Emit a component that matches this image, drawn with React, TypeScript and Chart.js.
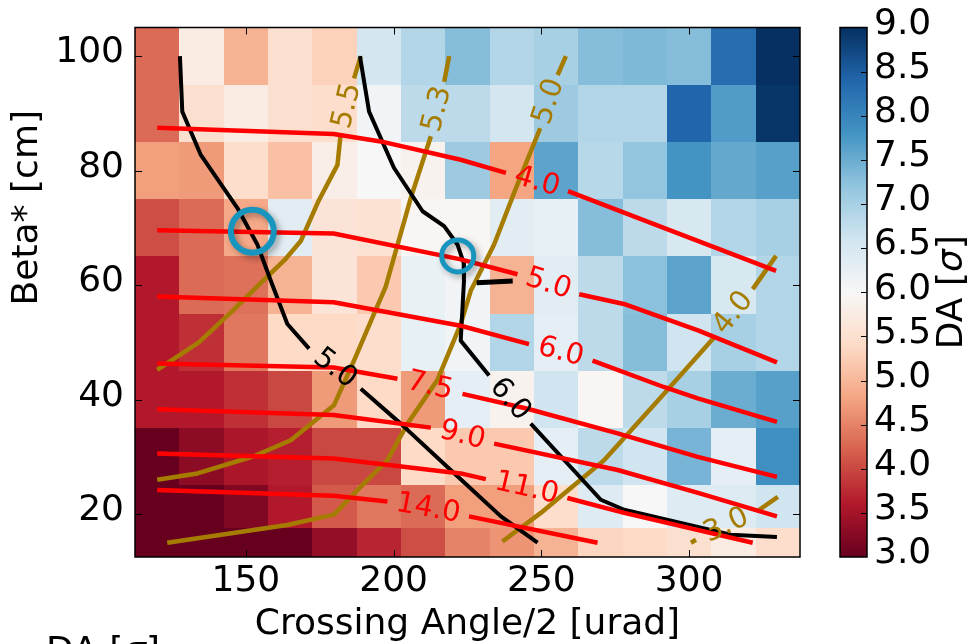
import React, { useEffect, useRef } from 'react';
import { Chart, registerables } from 'chart.js';

Chart.register(...registerables);

// ---------- data ----------
const crossingAngles = [120, 135, 150, 165, 180, 195, 210, 225, 240, 255, 270, 285, 300, 315, 330];
const betaStars = [100, 90, 80, 70, 60, 50, 40, 30, 20, 15];

const da100 = [4.3, 5.75, 4.95, 5.5, 5.3, 6.55, 6.9, 7.3, 6.9, 7.0, 7.3, 7.35, 7.3, 8.3, 9.0];
const da90 = [4.3, 5.5, 5.75, 5.5, 5.45, 6.1, 6.8, 6.8, 6.55, 7.1, 6.9, 6.9, 8.4, 7.7, 8.95];
const da80 = [4.75, 4.7, 5.45, 5.1, 5.8, 6.0, 5.9, 7.1, 4.8, 7.6, 6.85, 7.2, 7.8, 7.55, 7.65];
const da70 = [4.05, 4.3, 4.85, 6.35, 5.6, 5.55, 5.95, 5.95, 6.35, 6.25, 7.3, 6.8, 6.5, 6.9, 7.0];
const da60 = [3.6, 4.3, 4.35, 4.95, 5.6, 5.2, 6.2, 6.1, 4.95, 6.35, 6.8, 7.25, 7.6, 6.5, 6.9];
const da50 = [3.6, 3.8, 4.4, 5.4, 5.4, 5.45, 6.25, 6.1, 6.9, 6.3, 6.8, 7.3, 6.6, 7.0, 6.9];
const da40 = [3.6, 3.6, 3.8, 4.0, 4.7, 5.4, 4.7, 6.3, 5.9, 6.6, 5.95, 6.8, 7.0, 7.5, 7.65];
const da30 = [3.0, 3.3, 3.55, 3.65, 4.0, 4.0, 5.4, 5.2, 5.2, 6.3, 6.8, 6.6, 7.4, 6.3, 7.85];
const da20 = [3.0, 3.0, 3.2, 3.6, 4.15, 4.4, 4.3, 4.75, 4.75, 5.45, 6.4, 6.0, 6.4, 6.4, 6.6];
const da15 = [3.0, 3.0, 3.0, 3.0, 3.35, 3.7, 4.05, 4.5, 4.65, 4.95, 5.35, 5.4, 5.5, 5.75, 5.45];
const daRows = [da100, da90, da80, da70, da60, da50, da40, da30, da20, da15];

const xTicks = [150, 200, 250, 300];
const yTicks = [20, 40, 60, 80, 100];
const cbTicks = [3.0, 3.5, 4.0, 4.5, 5.0, 5.5, 6.0, 6.5, 7.0, 7.5, 8.0, 8.5, 9.0];

// contour paths [crossing angle, beta*]; "a" = before label, "b" = after label
const red40a = [[120, 87.5], [179.7, 86.4], [195.6, 85.1], [222.7, 81.9], [238, 79.6]];
const red40b = [[259, 76.4], [291.4, 70], [329.4, 62.5]];
const red50a = [[120, 69.6], [179.7, 69], [222.7, 64.5], [241.9, 61.9]];
const red50b = [[262.8, 58.4], [277.9, 56.7], [303, 52.1], [329.7, 46.5]];
const red60a = [[120, 58], [179.7, 57], [222.7, 52.9], [245.8, 49.7]];
const red60b = [[267.3, 46.8], [291.4, 42.2], [302.9, 40.2], [329.7, 36.1]];
const red75a = [[120, 46.3], [179.7, 45.6], [201.3, 43.65]];
const red75b = [[223.3, 41], [245.3, 38.4], [275.8, 34.1], [302.9, 30], [329.7, 26.5]];
const red90a = [[120, 38.3], [179.7, 37.3], [212.6, 35.1]];
const red90b = [[234, 32.3], [275.8, 27.7], [303, 23.7], [329.7, 19.6]];
const red110a = [[120, 30.6], [179.7, 29.7], [222.7, 27.1], [231.2, 26.1]];
const red110b = [[258.8, 22.8], [278, 20.2], [321.5, 15]];
const red140a = [[120, 24.2], [179.7, 23.2], [197.9, 22.2]];
const red140b = [[225.5, 19.6], [269, 15]];

const black50a = [[127.7, 100], [128.5, 90.3], [134.7, 82.8], [147.1, 73.5], [153.9, 67.1], [158.7, 60.4], [164.05, 53.2], [171.4, 48.9]];
const black50b = [[188.9, 41.9], [202.4, 35.8], [219.3, 27.7], [236.3, 19.6], [248.7, 15]];
const black60a = [[188.6, 100], [191.7, 90.3], [200.1, 80.5], [209.8, 72.9], [217.1, 70.3], [221.6, 67.1], [223.7, 63.9], [223.8, 60.7], [222.7, 50.3], [232.3, 44.2]];
const black60b = [[246.4, 35.8], [270.1, 22.5], [278, 20.75], [314.1, 16.4], [329.7, 16]];
const blackIsland = [[228.1, 60.4], [240.3, 60.7]];

const gold55a = [[188.9, 100], [186.6, 96.1]];
const gold55b = [[182.1, 86.5], [181, 81], [174.6, 74.7], [168.6, 67.7], [163.5, 64.6], [155.7, 60.7], [145.5, 55.5], [134.1, 50], [120, 45.2]];
const gold53a = [[218.8, 100], [217.1, 95.5]];
const gold53b = [[212.6, 86], [205.8, 75.2], [197.3, 59.7], [193.4, 55], [186.6, 46.8], [179.8, 39], [165.2, 32.9], [152.7, 30.1], [133.6, 27.1], [120, 26]];
const gold50a = [[258.3, 100], [255.5, 96.7]];
const gold50b = [[249.6, 87.4], [241.9, 77.6], [234, 67.1], [226.1, 59], [222.7, 53.2], [214.8, 43.4], [204.7, 35.8], [197.9, 29.4], [188.9, 24.8], [179.8, 19.9], [164, 18.1], [123.4, 15]];
const gold40a = [[236.8, 15.2], [249.8, 20.2], [271.2, 29.4], [291.5, 41], [308.5, 50.9]];
const gold40b = [[321.5, 59.3], [329.4, 65.1]];
const gold30a = [[300.6, 15], [302.3, 15.5]];
const gold30b = [[322.9, 20.45], [330, 23]];

const markerAngles = [152.2, 221.7];
const markerBetas = [69.4, 65.1];

// ---------- styles ----------
const RED = '#ff0000';
const GOLD = '#a67c00';
const BLACK = '#000000';
const TEAL = '#1795bf';
const FONT = '"DejaVu Sans", sans-serif';
const RDBU = ['#67001f', '#b2182b', '#d6604d', '#f4a582', '#fddbc7', '#f7f7f7', '#d1e5f0', '#92c5de', '#4393c3', '#2166ac', '#053061'];
const V_MIN = 3;
const V_MAX = 9;

const contours = [
  { label: '4.0', color: RED, width: 4.5, a: red40a, b: red40b },
  { label: '5.0', color: RED, width: 4.5, a: red50a, b: red50b },
  { label: '6.0', color: RED, width: 4.5, a: red60a, b: red60b },
  { label: '7.5', color: RED, width: 4.5, a: red75a, b: red75b },
  { label: '9.0', color: RED, width: 4.5, a: red90a, b: red90b },
  { label: '11.0', color: RED, width: 4.5, a: red110a, b: red110b },
  { label: '14.0', color: RED, width: 4.5, a: red140a, b: red140b },
  { label: '5.0', color: BLACK, width: 4, a: black50a, b: black50b },
  { label: '6.0', color: BLACK, width: 4, a: black60a, b: black60b },
  { label: '', color: BLACK, width: 5, a: blackIsland, b: null },
  { label: '5.5', color: GOLD, width: 4.5, a: gold55a, b: gold55b },
  { label: '5.3', color: GOLD, width: 4.5, a: gold53a, b: gold53b },
  { label: '5.0', color: GOLD, width: 4.5, a: gold50a, b: gold50b },
  { label: '4.0', color: GOLD, width: 4.5, a: gold40a, b: gold40b },
  { label: '3.0', color: GOLD, width: 4.5, a: gold30a, b: gold30b },
];

function hexToRgb(h: string) {
  return [parseInt(h.slice(1, 3), 16), parseInt(h.slice(3, 5), 16), parseInt(h.slice(5, 7), 16)];
}
const RDBU_RGB = RDBU.map(hexToRgb);

function colorFor(v: number) {
  let t = (v - V_MIN) / (V_MAX - V_MIN);
  t = Math.max(0, Math.min(1, t));
  const pos = t * (RDBU_RGB.length - 1);
  const i = Math.min(Math.floor(pos), RDBU_RGB.length - 2);
  const f = pos - i;
  const a = RDBU_RGB[i];
  const b = RDBU_RGB[i + 1];
  const c = a.map((x, k) => Math.round(x + (b[k] - x) * f));
  return `rgb(${c[0]},${c[1]},${c[2]})`;
}

function edges(centers: number[]) {
  const n = centers.length;
  const e: number[] = [];
  e.push(centers[0] - (centers[1] - centers[0]) / 2);
  for (let i = 1; i < n; i++) e.push((centers[i - 1] + centers[i]) / 2);
  e.push(centers[n - 1] + (centers[n - 1] - centers[n - 2]) / 2);
  return e;
}

function drawDA(ctx: CanvasRenderingContext2D, x: number, y: number, size: number, align: 'center' | 'left') {
  const nf = `${size}px ${FONT}`;
  const itf = `italic ${size}px ${FONT}`;
  const parts: [string, string][] = [['DA [', nf], ['σ', itf], [']', nf]];
  const widths = parts.map(([t, f]) => {
    ctx.font = f;
    return ctx.measureText(t).width;
  });
  const total = widths.reduce((s, w) => s + w, 0);
  let cx = align === 'center' ? x - total / 2 : x;
  ctx.textAlign = 'left';
  parts.forEach(([t, f], i) => {
    ctx.font = f;
    ctx.fillText(t, cx, y);
    cx += widths[i];
  });
}

const heatmapPlugin = {
  id: 'heatmap',
  beforeDatasetsDraw(chart: any) {
    const { ctx, chartArea: a, scales } = chart;
    const xs = scales.x;
    const ys = scales.y;
    const xe = edges(crossingAngles);
    const ye = edges(betaStars);
    ctx.save();
    ctx.beginPath();
    ctx.rect(a.left, a.top, a.right - a.left, a.bottom - a.top);
    ctx.clip();
    daRows.forEach((row, r) => {
      const y0 = ys.getPixelForValue(ye[r]);
      const y1 = ys.getPixelForValue(ye[r + 1]);
      row.forEach((v, c) => {
        const x0 = xs.getPixelForValue(xe[c]);
        const x1 = xs.getPixelForValue(xe[c + 1]);
        const L = Math.round(Math.min(x0, x1));
        const R = Math.round(Math.max(x0, x1));
        const T = Math.round(Math.min(y0, y1));
        const B = Math.round(Math.max(y0, y1));
        ctx.fillStyle = colorFor(v);
        ctx.fillRect(L, T, R - L, B - T);
      });
    });
    ctx.restore();
  },
};

const labelsPlugin = {
  id: 'contourLabels',
  afterDatasetsDraw(chart: any) {
    const { ctx, scales } = chart;
    const xs = scales.x;
    const ys = scales.y;
    ctx.save();
    contours.forEach((c) => {
      if (!c.label || !c.b) return;
      const p1 = c.a[c.a.length - 1];
      const p2 = c.b[0];
      const x1 = xs.getPixelForValue(p1[0]);
      const y1 = ys.getPixelForValue(p1[1]);
      const x2 = xs.getPixelForValue(p2[0]);
      const y2 = ys.getPixelForValue(p2[1]);
      let ang = Math.atan2(y2 - y1, x2 - x1);
      if (ang > Math.PI / 2) ang -= Math.PI;
      if (ang < -Math.PI / 2) ang += Math.PI;
      ctx.save();
      ctx.translate((x1 + x2) / 2, (y1 + y2) / 2);
      ctx.rotate(ang);
      ctx.font = `29px ${FONT}`;
      ctx.fillStyle = c.color;
      ctx.textAlign = 'center';
      ctx.textBaseline = 'middle';
      ctx.fillText(c.label, 0, 0);
      ctx.restore();
    });
    ctx.restore();
  },
};

const shadowPlugin = {
  id: 'markerShadow',
  beforeDatasetDraw(chart: any, args: any) {
    if (args.meta && args.meta.type === 'scatter') {
      const ctx = chart.ctx;
      ctx.save();
      ctx.shadowColor = 'rgba(0,0,0,0.35)';
      ctx.shadowBlur = 6;
      ctx.shadowOffsetX = 3;
      ctx.shadowOffsetY = 3;
    }
  },
  afterDatasetDraw(chart: any, args: any) {
    if (args.meta && args.meta.type === 'scatter') {
      chart.ctx.restore();
    }
  },
};

const decorPlugin = {
  id: 'decor',
  afterDraw(chart: any) {
    const { ctx, chartArea: a, scales } = chart;
    const xs = scales.x;
    const ys = scales.y;
    const cb = scales.cb;
    ctx.save();
    // inward ticks
    ctx.strokeStyle = '#000';
    ctx.lineWidth = 1;
    const TL = 7;
    xTicks.forEach((v) => {
      const px = Math.round(xs.getPixelForValue(v)) + 0.5;
      ctx.beginPath();
      ctx.moveTo(px, a.bottom);
      ctx.lineTo(px, a.bottom - TL);
      ctx.moveTo(px, a.top);
      ctx.lineTo(px, a.top + TL);
      ctx.stroke();
    });
    yTicks.forEach((v) => {
      const py = Math.round(ys.getPixelForValue(v)) + 0.5;
      ctx.beginPath();
      ctx.moveTo(a.left, py);
      ctx.lineTo(a.left + TL, py);
      ctx.moveTo(a.right, py);
      ctx.lineTo(a.right - TL, py);
      ctx.stroke();
    });
    // frame
    ctx.lineWidth = 1.5;
    ctx.strokeRect(a.left, a.top, a.right - a.left, a.bottom - a.top);

    // colorbar
    const bx0 = cb.left + 40;
    const bx1 = cb.left + 67;
    const top = cb.getPixelForValue(V_MAX);
    const bot = cb.getPixelForValue(V_MIN);
    const grad = ctx.createLinearGradient(0, bot, 0, top);
    RDBU.forEach((c, i) => grad.addColorStop(i / (RDBU.length - 1), c));
    ctx.fillStyle = grad;
    ctx.fillRect(bx0, top, bx1 - bx0, bot - top);
    ctx.lineWidth = 1;
    cbTicks.forEach((v) => {
      if (v === V_MIN || v === V_MAX) return;
      const py = Math.round(cb.getPixelForValue(v)) + 0.5;
      ctx.beginPath();
      ctx.moveTo(bx1 - 6, py);
      ctx.lineTo(bx1, py);
      ctx.stroke();
    });
    ctx.lineWidth = 1.5;
    ctx.strokeRect(bx0, top, bx1 - bx0, bot - top);

    // colorbar title
    ctx.fillStyle = '#000';
    ctx.save();
    ctx.translate(953, (top + bot) / 2);
    ctx.rotate(-Math.PI / 2);
    ctx.textBaseline = 'middle';
    drawDA(ctx, 0, 0, 36, 'center');
    ctx.restore();

    // y axis title
    ctx.save();
    ctx.translate(28, 110);
    ctx.rotate(-Math.PI / 2);
    ctx.font = `36px ${FONT}`;
    ctx.textAlign = 'right';
    ctx.textBaseline = 'middle';
    ctx.fillText('Beta* [cm]', 0, 0);
    ctx.restore();

    // partially visible title of the next panel
    ctx.textBaseline = 'alphabetic';
    drawDA(ctx, 46, 662, 36, 'left');
    ctx.restore();
  },
};

function toPts(arr: number[][]) {
  return arr.map((p) => ({ x: p[0], y: p[1] }));
}

export default function App() {
  const ref = useRef<HTMLCanvasElement>(null);
  useEffect(() => {
    document.body.style.margin = '0';
    Chart.defaults.font.family = FONT;
    Chart.defaults.color = '#000';

    const lineSets = contours.map((c) => {
      const data: any[] = toPts(c.a);
      if (c.b) {
        const pa = c.a[c.a.length - 1];
        const pb = c.b[0];
        data.push({ x: (pa[0] + pb[0]) / 2, y: null });
        data.push(...toPts(c.b));
      }
      return {
        type: 'line',
        data,
        borderColor: c.color,
        borderWidth: c.width,
        pointRadius: 0,
        pointHoverRadius: 0,
        showLine: true,
        fill: false,
        tension: 0,
        spanGaps: false,
        borderCapStyle: 'butt',
        borderJoinStyle: 'round',
        order: 1,
      };
    });

    const markerSet = {
      type: 'scatter',
      data: markerAngles.map((x, i) => ({ x, y: markerBetas[i] })),
      pointRadius: [21.5, 16],
      pointBorderWidth: [6, 5],
      borderWidth: [6, 5],
      pointBorderColor: TEAL,
      borderColor: TEAL,
      backgroundColor: 'rgba(0,0,0,0)',
      pointBackgroundColor: 'rgba(0,0,0,0)',
      order: 0,
    };

    const noPadV = (s: any) => {
      s.paddingTop = 0;
      s.paddingBottom = 0;
    };

    const chart = new Chart(ref.current as HTMLCanvasElement, {
      type: 'line',
      data: { datasets: [markerSet, ...lineSets] as any },
      options: {
        animation: false,
        responsive: false,
        maintainAspectRatio: false,
        events: [],
        layout: { padding: { top: 25, left: 0, right: 0, bottom: 0 } },
        plugins: { legend: { display: false }, tooltip: { enabled: false } },
        scales: {
          x: {
            type: 'linear',
            min: 112.5,
            max: 337.5,
            afterBuildTicks: (s: any) => {
              s.ticks = xTicks.map((v) => ({ value: v }));
            },
            afterFit: (s: any) => {
              s.height = 87;
              s.paddingLeft = 0;
              s.paddingRight = 0;
            },
            grid: { display: false, drawTicks: false },
            border: { display: false },
            ticks: {
              font: { size: 36 },
              color: '#000',
              padding: 3,
              maxRotation: 0,
              minRotation: 0,
              autoSkip: false,
              callback: (v: any) => String(v),
            },
            title: {
              display: true,
              text: 'Crossing Angle/2 [urad]',
              color: '#000',
              font: { size: 36, lineHeight: 1.0 },
              padding: { top: 0, bottom: 1 },
            },
          },
          y: {
            type: 'linear',
            min: 12.5,
            max: 105,
            afterBuildTicks: (s: any) => {
              s.ticks = yTicks.map((v) => ({ value: v }));
            },
            afterFit: (s: any) => {
              s.width = 135;
              noPadV(s);
            },
            grid: { display: false, drawTicks: false },
            border: { display: false },
            ticks: {
              font: { size: 36 },
              color: '#000',
              padding: 11,
              labelOffset: -3,
              autoSkip: false,
              callback: (v: any) => String(v),
            },
          },
          cb: {
            type: 'linear',
            position: 'right',
            min: V_MIN,
            max: V_MAX,
            afterBuildTicks: (s: any) => {
              s.ticks = cbTicks.map((v) => ({ value: v }));
            },
            afterFit: (s: any) => {
              s.width = 174;
              noPadV(s);
            },
            grid: { display: false, drawTicks: false },
            border: { display: false },
            ticks: {
              font: { size: 36 },
              color: '#000',
              padding: 74,
              labelOffset: -3,
              autoSkip: false,
              callback: (v: any) => Number(v).toFixed(1),
            },
          },
        } as any,
      },
      plugins: [heatmapPlugin, labelsPlugin, shadowPlugin, decorPlugin],
    } as any);
    return () => chart.destroy();
  }, []);

  return (
    <div style={{ width: 974, height: 644, overflow: 'hidden' }}>
      <canvas ref={ref} width={974} height={644} style={{ display: 'block' }} />
    </div>
  );
}
